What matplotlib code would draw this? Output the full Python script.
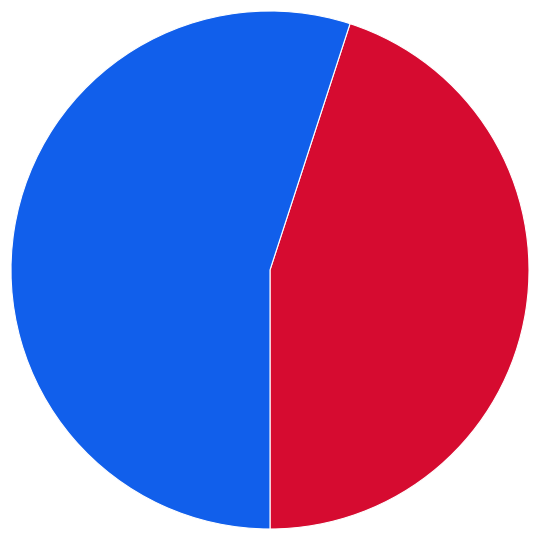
import matplotlib
matplotlib.use("Agg")
from matplotlib import pyplot as plt

labels = ["Red", "Blue"]
values = [45, 55]
colors = ["#D60B30", "#115FEB"]

fig = plt.figure(figsize=(5.4, 5.4), dpi=100)
ax = fig.add_axes([0, 0, 1, 1])
ax.pie(values, colors=colors, startangle=-90, counterclock=True,
       wedgeprops={"edgecolor": "white", "linewidth": 0.8})
lim = 270 / 259
ax.set_xlim(-lim, lim)
ax.set_ylim(-lim, lim)
ax.set_aspect("equal")
ax.axis("off")
fig.savefig("out.png", dpi=100, facecolor="white")
